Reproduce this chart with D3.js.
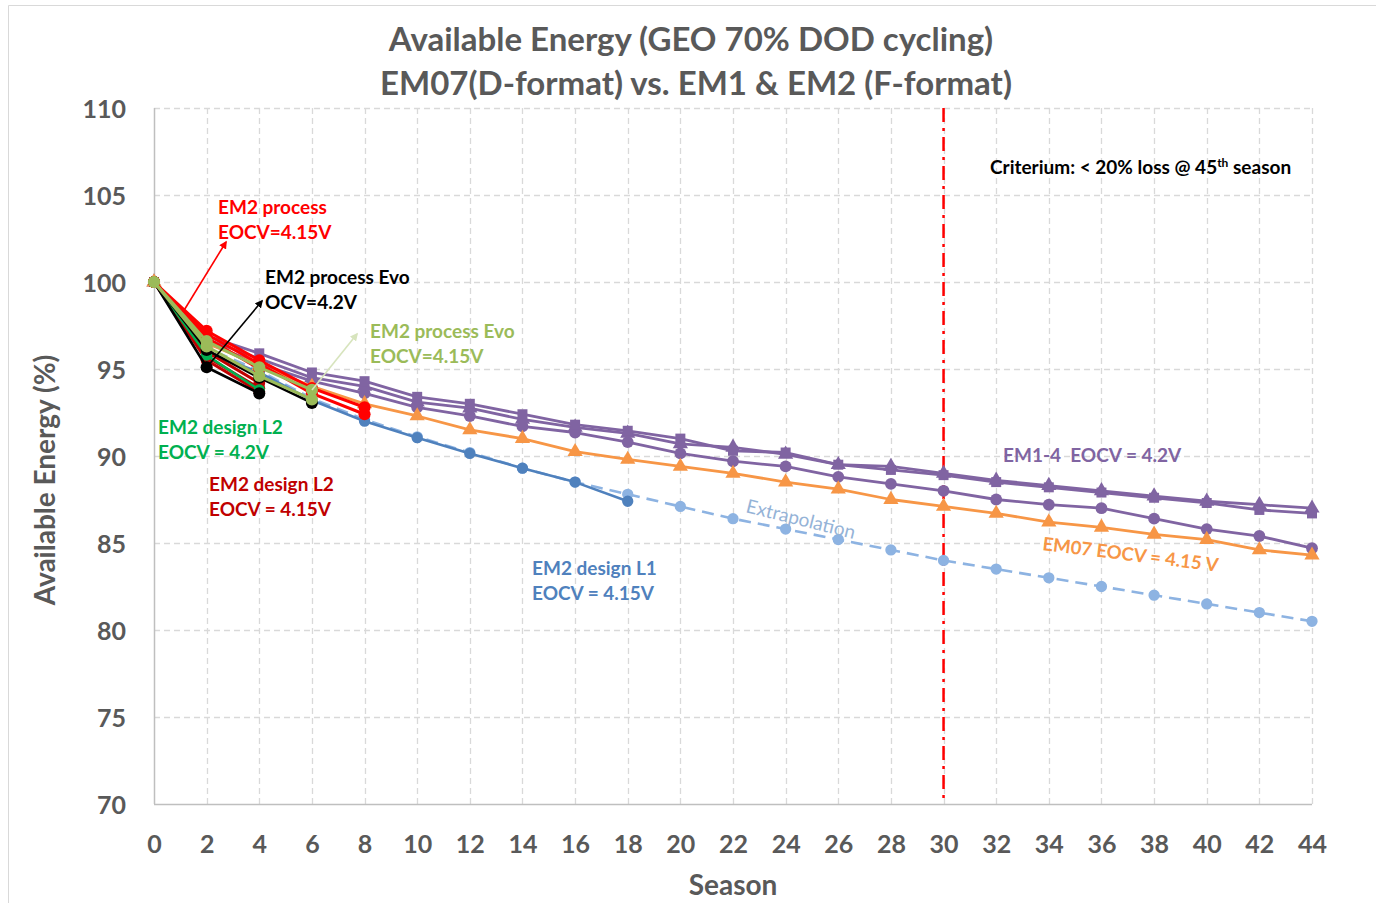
<!DOCTYPE html>
<html>
<head>
<meta charset="utf-8">
<script src="https://cdn.jsdelivr.net/npm/d3@7/dist/d3.min.js"></script>
<style>
  html, body { margin: 0; padding: 0; background: #ffffff; }
  svg { display: block; font-family: Lato, "Open Sans", sans-serif; }
  text { white-space: pre; }
</style>
</head>
<body>
<svg id="chart" width="1376" height="903"></svg>
<script>
// Season axis categories and tick labels
const seasons = [0, 2, 4, 6, 8, 10, 12, 14, 16, 18, 20, 22, 24, 26, 28, 30, 32, 34, 36, 38, 40, 42, 44];
const yTicks = [70, 75, 80, 85, 90, 95, 100, 105, 110];

// EM1-4, EOCV = 4.2 V (three cells)
const em1Squares   = [100, 96.9, 95.9, 94.8, 94.3, 93.4, 93.0, 92.4, 91.8, 91.45, 91.0, 90.3, 90.2, 89.5, 89.2, 88.9, 88.5, 88.2, 87.9, 87.6, 87.3, 86.9, 86.7];
const em1Triangles = [100, 96.7, 95.6, 94.5, 94.0, 93.1, 92.75, 92.1, 91.65, 91.3, 90.7, 90.5, 90.1, 89.5, 89.4, 89.0, 88.6, 88.3, 88.0, 87.7, 87.4, 87.2, 87.0];
const em1Circles   = [100, 96.5, 95.3, 94.3, 93.6, 92.8, 92.3, 91.7, 91.35, 90.8, 90.15, 89.7, 89.4, 88.8, 88.4, 88.0, 87.5, 87.2, 87.0, 86.4, 85.8, 85.4, 84.7];

// EM07 (D-format), EOCV = 4.15 V
const em07 = [100, 96.5, 95.2, 94.0, 93.0, 92.3, 91.5, 91.0, 90.25, 89.8, 89.4, 89.0, 88.5, 88.1, 87.5, 87.1, 86.7, 86.2, 85.9, 85.5, 85.2, 84.6, 84.3];

// EM2 design L1, EOCV = 4.15 V: measured and extrapolated
const l1Measured      = [100, 96.0, 94.8, 93.2, 92.0, 91.05, 90.15, 89.3, 88.5, 87.4];
const l1Extrapolation = [100, 96.2, 94.9, 93.3, 92.1, 91.1, 90.2, 89.3, 88.5, 87.8, 87.1, 86.4, 85.8, 85.2, 84.6, 84.0, 83.5, 83.0, 82.5, 82.0, 81.5, 81.0, 80.5];

// EM2 design L2
const l2Eocv415A = [100, 96.0, 94.2];
const l2Eocv415B = [100, 95.7, 93.9];
const l2Eocv415C = [100, 95.5, 93.7];
const l2Eocv42   = [100, 95.8, 93.8];

// EM2 process, EOCV = 4.15 V
const processA = [100, 97.2, 95.5, 93.9, 92.8];
const processB = [100, 97.0, 95.3, 93.6, 92.4];
const processC = [100, 96.8, 95.0];

// EM2 process Evo
const evoOcv42A   = [100, 95.1, 93.6];
const evoOcv42B   = [100, 96.1, 94.5, 93.05];
const evoEocv415A = [100, 96.6, 95.1, 93.8];
const evoEocv415B = [100, 96.3, 94.6, 93.25];

// Criterion marker season
const criterionSeason = 30;

const svg = d3.select("#chart");
const W = 1376, H = 903;
const plot = { left: 154, right: 1312, top: 108, bottom: 804 };

const x = d3.scaleLinear().domain([0, 44]).range([plot.left, plot.right]);
const y = d3.scaleLinear().domain([70, 110]).range([plot.bottom, plot.top]);

const grey = "#595959";

// outer chart frame
svg.append("path")
  .attr("d", `M8.5,${H} V5.5 H${W}`)
  .attr("fill", "none").attr("stroke", "#d9d9d9").attr("stroke-width", 1);

// title
const title = svg.append("text")
  .attr("text-anchor", "middle").attr("fill", grey)
  .attr("font-weight", 700).attr("font-size", 33);
title.append("tspan").attr("x", 691).attr("y", 51).text("Available Energy (GEO 70% DOD cycling)");
title.append("tspan").attr("x", 696).attr("y", 95).text("EM07(D-format) vs. EM1 & EM2 (F-format)");

// gridlines
const grid = svg.append("g").attr("stroke", "#d9d9d9").attr("stroke-width", 1.3).attr("stroke-dasharray", "6,4");
grid.selectAll("line.h").data(yTicks.filter(v => v > 70)).join("line")
  .attr("x1", plot.left).attr("x2", plot.right)
  .attr("y1", d => Math.round(y(d)) + 0.5).attr("y2", d => Math.round(y(d)) + 0.5);
grid.selectAll("line.v").data(seasons.filter(v => v > 0)).join("line")
  .attr("x1", d => Math.round(x(d)) + 0.5).attr("x2", d => Math.round(x(d)) + 0.5)
  .attr("y1", plot.top).attr("y2", plot.bottom);

// axes
const yAxis = d3.axisLeft(y).tickValues(yTicks).tickSize(0).tickPadding(28).tickFormat(d3.format("d"));
const xAxis = d3.axisBottom(x).tickValues(seasons).tickSize(0).tickPadding(31).tickFormat(d3.format("d"));

const gy = svg.append("g").attr("transform", `translate(${plot.left},0)`).call(yAxis);
const gx = svg.append("g").attr("transform", `translate(0,${plot.bottom})`).call(xAxis);
[gx, gy].forEach(g => {
  g.select(".domain").remove();
  g.selectAll("text").attr("fill", grey).attr("font-size", 25).attr("font-weight", 700)
    .attr("font-family", "Lato, sans-serif");
});
gy.selectAll("text").attr("dy", "0.36em");

svg.append("line").attr("x1", plot.left + 0.5).attr("x2", plot.left + 0.5)
  .attr("y1", plot.top).attr("y2", plot.bottom).attr("stroke", "#bfbfbf").attr("stroke-width", 1.5);
svg.append("line").attr("x1", plot.left).attr("x2", plot.right)
  .attr("y1", plot.bottom + 0.5).attr("y2", plot.bottom + 0.5).attr("stroke", "#bfbfbf").attr("stroke-width", 1.5);

// axis titles
svg.append("text").attr("x", 733).attr("y", 895).attr("text-anchor", "middle")
  .attr("fill", grey).attr("font-size", 28).attr("font-weight", 700).text("Season");
svg.append("text").attr("transform", "translate(55,480) rotate(-90)").attr("text-anchor", "middle")
  .attr("fill", grey).attr("font-size", 28).attr("font-weight", 700).text("Available Energy (%)");

// criterion line
svg.append("line")
  .attr("x1", x(criterionSeason)).attr("x2", x(criterionSeason))
  .attr("y1", plot.top).attr("y2", plot.bottom)
  .attr("stroke", "#ff0000").attr("stroke-width", 2.5).attr("stroke-dasharray", "14,6,3,6");

// series, drawn bottom to top
const series = [
  { v: l1Extrapolation, color: "#8db3e2", sym: d3.symbolCircle, size: 100, w: 2.6, dash: "12,7" },
  { v: l1Measured,      color: "#4f81bd", sym: d3.symbolCircle, size: 100, w: 2.6 },
  { v: em1Circles,      color: "#8064a2", sym: d3.symbolCircle, size: 110, w: 2.8 },
  { v: em1Triangles,    color: "#8064a2", sym: d3.symbolTriangle, size: 100, w: 2.8 },
  { v: em1Squares,      color: "#8064a2", sym: d3.symbolSquare, size: 100, w: 2.8 },
  { v: em07,            color: "#f79646", sym: d3.symbolTriangle, size: 100, w: 2.8 },
  { v: l2Eocv415C,      color: "#c00000", sym: d3.symbolCircle, size: 110, w: 3 },
  { v: l2Eocv415B,      color: "#c00000", sym: d3.symbolCircle, size: 110, w: 3 },
  { v: l2Eocv415A,      color: "#c00000", sym: d3.symbolCircle, size: 110, w: 3 },
  { v: l2Eocv42,        color: "#00b050", sym: d3.symbolCircle, size: 100, w: 2.6 },
  { v: evoOcv42B,       color: "#000000", sym: d3.symbolCircle, size: 115, w: 2.6 },
  { v: evoOcv42A,       color: "#000000", sym: d3.symbolCircle, size: 115, w: 2.6 },
  { v: processC,        color: "#ff0000", sym: d3.symbolCircle, size: 115, w: 3 },
  { v: processB,        color: "#ff0000", sym: d3.symbolCircle, size: 115, w: 3 },
  { v: processA,        color: "#ff0000", sym: d3.symbolCircle, size: 115, w: 3 },
  { v: evoEocv415B,     color: "#9bbb59", sym: d3.symbolCircle, size: 115, w: 3 },
  { v: evoEocv415A,     color: "#9bbb59", sym: d3.symbolCircle, size: 115, w: 3 }
];

const line = d3.line().x((d, i) => x(seasons[i])).y(d => y(d));
const gSeries = svg.append("g");
series.forEach(s => {
  const g = gSeries.append("g");
  g.append("path").attr("d", line(s.v)).attr("fill", "none")
    .attr("stroke", s.color).attr("stroke-width", s.w)
    .attr("stroke-linejoin", "round")
    .attr("stroke-dasharray", s.dash || null);
  g.selectAll("path.m").data(s.v).join("path")
    .attr("transform", (d, i) => `translate(${x(seasons[i])},${y(d)})`)
    .attr("d", d3.symbol(s.sym, s.size))
    .attr("fill", s.color);
});

// annotation arrows
const defs = svg.append("defs");
function marker(id, color) {
  defs.append("marker").attr("id", id).attr("viewBox", "0 0 10 10")
    .attr("refX", 8).attr("refY", 5).attr("markerWidth", 5).attr("markerHeight", 5)
    .attr("orient", "auto")
    .append("path").attr("d", "M0,0 L10,5 L0,10 z").attr("fill", color);
}
marker("arRed", "#ff0000");
marker("arBlack", "#000000");
marker("arOlive", "#d7e4bd");
function arrow(x1, y1, x2, y2, color, id) {
  svg.append("line").attr("x1", x1).attr("y1", y1).attr("x2", x2).attr("y2", y2)
    .attr("stroke", color).attr("stroke-width", 1.6).attr("marker-end", `url(#${id})`);
}
arrow(183, 312, 226, 242, "#ff0000", "arRed");
arrow(207, 367, 262, 301, "#000000", "arBlack");
arrow(312, 390, 357, 334, "#d7e4bd", "arOlive");

// annotation labels
function label(lines, px, py, color, size, gap) {
  const t = svg.append("text").attr("fill", color).attr("font-size", size).attr("font-weight", 700);
  lines.forEach((s, i) => t.append("tspan").attr("x", px).attr("y", py + i * gap).text(s));
  return t;
}
label(["EM2 process", "EOCV=4.15V"], 218, 214, "#ff0000", 19, 25);
label(["EM2 process Evo", "OCV=4.2V"], 265, 284, "#000000", 19, 25);
label(["EM2 process Evo", "EOCV=4.15V"], 370, 338, "#9bbb59", 19, 25);
label(["EM2 design L2", "EOCV = 4.2V"], 158, 434, "#00b050", 19, 25);
label(["EM2 design L2", "EOCV = 4.15V"], 209, 491, "#c00000", 19, 25);
label(["EM2 design L1", "EOCV = 4.15V"], 532, 575, "#4f81bd", 19, 25);
label(["EM1-4  EOCV = 4.2V"], 1003, 462, "#8064a2", 19, 25);

svg.append("text").attr("transform", "translate(1042,550) rotate(7)")
  .attr("fill", "#f79646").attr("font-size", 18.5).attr("font-weight", 700)
  .text("EM07 EOCV = 4.15 V");
svg.append("text").attr("transform", "translate(745,512) rotate(14)")
  .attr("fill", "#95b3d7").attr("font-size", 19).attr("font-weight", 400)
  .text("Extrapolation");

const crit = svg.append("text").attr("x", 990).attr("y", 174)
  .attr("fill", "#000000").attr("font-size", 19).attr("font-weight", 700);
crit.append("tspan").text("Criterium: < 20% loss @ 45");
crit.append("tspan").attr("font-size", 12).attr("dy", -7).text("th");
crit.append("tspan").attr("dy", 7).text(" season");
</script>
</body>
</html>
